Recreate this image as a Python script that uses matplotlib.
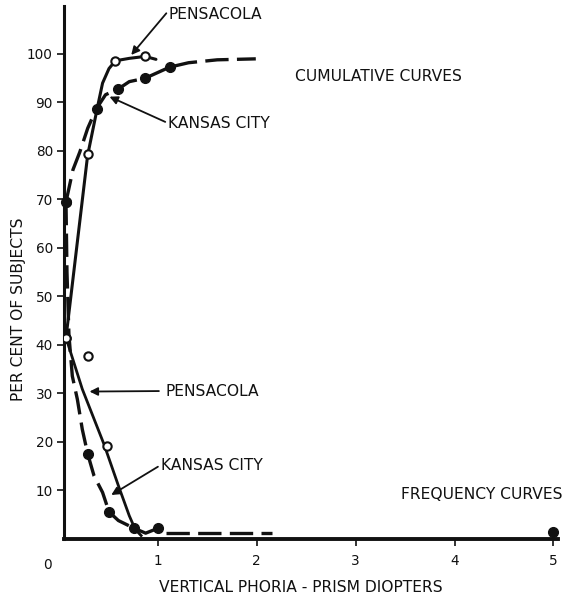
import matplotlib
matplotlib.use("Agg")
import matplotlib.pyplot as plt

# marker points - vertical phoria (prism diopters) vs per cent of subjects
pen_cum_x = [0.07, 0.29, 0.57, 0.87]
pen_cum_y = [41.5, 79.3, 98.6, 99.5]
kc_cum_x = [0.07, 0.38, 0.60, 0.87, 1.12]
kc_cum_y = [69.5, 88.7, 92.8, 95.0, 97.3]

pen_freq_x = [0.07, 0.29, 0.48]
pen_freq_y = [41.5, 37.7, 19.1]
kc_freq_x = [0.07, 0.29, 0.505, 0.76, 1.0, 5.0]
kc_freq_y = [69.5, 17.5, 5.6, 2.2, 2.2, 1.4]

pen_cum_line_x = [0.07, 0.29, 0.30, 0.39, 0.44, 0.505, 0.57, 0.71, 0.87, 0.98]
pen_cum_line_y = [41.5, 79.3, 80.2, 89.2, 94.0, 97.0, 98.6, 99.1, 99.5, 98.9]
kc_cum_line_x = [0.07, 0.14, 0.21, 0.29, 0.377, 0.47, 0.60, 0.71, 0.87, 1.12, 1.31, 1.60, 1.99]
kc_cum_line_y = [69.5, 76.1, 79.8, 84.7, 88.7, 91.6, 92.8, 94.3, 95.0, 97.3, 98.2, 98.8, 99.0]

pen_freq_line_x = [0.07, 0.235, 0.455, 0.60, 0.71, 0.77, 0.83]
pen_freq_line_y = [41.5, 30.9, 19.5, 11.0, 4.8, 2.0, 0.7]
kc_freq_line_x = [0.07, 0.08, 0.10, 0.134, 0.185, 0.235, 0.29, 0.354, 0.44, 0.505, 0.60, 0.76, 0.876, 1.0]
kc_freq_line_y = [69.5, 55.0, 42.0, 33.6, 28.8, 22.6, 17.5, 13.0, 9.6, 5.6, 3.8, 2.2, 1.2, 2.2]
kc_tail_x = [1.08, 2.15]
kc_tail_y = [1.3, 1.3]

x_ticks = [1, 2, 3, 4, 5]
y_ticks = [10, 20, 30, 40, 50, 60, 70, 80, 90, 100]

ink = "#111111"
fs = 9.8     # tick numbers
fs_txt = 11.2  # lettering

fig = plt.figure(figsize=(5.7, 5.98), dpi=100)
ax = fig.add_axes([0.1123, 0.0987, 0.8672, 0.8921])

dash = (7, 2.5)

# cumulative curves
ax.plot(pen_cum_line_x, pen_cum_line_y, color=ink, lw=2.2, solid_capstyle="round")
ax.plot(kc_cum_line_x, kc_cum_line_y, color=ink, lw=2.4, ls=(0, dash))
ax.plot(pen_cum_x, pen_cum_y, "o", ms=6, mfc="white", mec=ink, mew=1.5)
ax.plot(kc_cum_x, kc_cum_y, "o", ms=7, color=ink)

# frequency curves
ax.plot(pen_freq_line_x, pen_freq_line_y, color=ink, lw=2.0)
ax.plot(kc_freq_line_x, kc_freq_line_y, color=ink, lw=2.4, ls=(0, dash))
ax.plot(kc_tail_x, kc_tail_y, color=ink, lw=2.4, ls=(0, dash))
ax.plot(pen_freq_x, pen_freq_y, "o", ms=6, mfc="white", mec=ink, mew=1.5, zorder=4)
ax.plot(kc_freq_x, kc_freq_y, "o", ms=7, color=ink, clip_on=False)

# labels with arrows
arrow = dict(arrowstyle="-|>", color=ink, lw=1.3, mutation_scale=12, shrinkA=0, shrinkB=0)
ax.annotate("", xy=(0.73, 99.8), xytext=(1.085, 108.4), arrowprops=arrow, annotation_clip=False)
ax.text(1.108, 108.2, "PENSACOLA", fontsize=fs_txt, color=ink, va="center", clip_on=False)
ax.annotate("", xy=(0.51, 91.2), xytext=(1.074, 86.0), arrowprops=arrow)
ax.text(1.098, 85.6, "KANSAS CITY", fontsize=fs_txt, color=ink, va="center")
ax.text(2.384, 95.3, "CUMULATIVE CURVES", fontsize=fs_txt, color=ink, va="center")

ax.annotate("", xy=(0.308, 30.4), xytext=(1.01, 30.5), arrowprops=arrow)
ax.text(1.074, 30.4, "PENSACOLA", fontsize=fs_txt, color=ink, va="center")
ax.annotate("", xy=(0.528, 9.07), xytext=(1.0, 14.9), arrowprops=arrow)
ax.text(1.034, 15.05, "KANSAS CITY", fontsize=fs_txt, color=ink, va="center")
ax.text(3.46, 9.1, "FREQUENCY CURVES", fontsize=fs_txt, color=ink, va="center", clip_on=False)

ax.set_xlim(0.05, 5.05)
ax.set_ylim(0, 110)
ax.set_xticks(x_ticks)
ax.set_xticklabels([str(t) for t in x_ticks])
ax.set_yticks(y_ticks)
ax.set_yticklabels([str(t) for t in y_ticks])
ax.tick_params(axis="x", direction="out", length=5, width=1.2, pad=6, labelsize=fs, colors=ink)
ax.tick_params(axis="y", direction="out", length=5, width=1.2, pad=3, labelsize=fs, colors=ink)

# the zero sits off to the left of the vertical axis
ax.text(-0.12, -0.048, "0", fontsize=fs, color=ink, ha="center", va="center",
        transform=ax.get_xaxis_transform(), clip_on=False)

for s in ["top", "right"]:
    ax.spines[s].set_visible(False)
ax.spines["left"].set_linewidth(2.2)
ax.spines["bottom"].set_linewidth(2.8)
ax.spines["left"].set_color(ink)
ax.spines["bottom"].set_color(ink)

fig.text(0.527, 1 - 587 / 598, "VERTICAL PHORIA - PRISM DIOPTERS", fontsize=fs_txt, color=ink,
         ha="center", va="center")
fig.text(0.032, 1 - 309 / 598, "PER CENT OF SUBJECTS", fontsize=fs_txt, color=ink,
         ha="center", va="center", rotation=90)

fig.savefig("out.png", dpi=100, facecolor="white")
